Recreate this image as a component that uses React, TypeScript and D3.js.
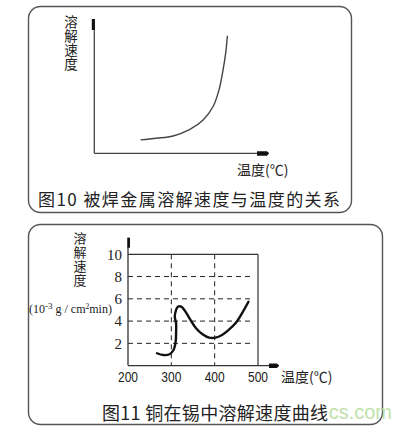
import * as d3 from "d3";

// Fig.10 – qualitative curve (axes carry no numbers), 0..10 arbitrary units
const fig10Temp = [2.65, 3.56, 4.51, 5.47, 6.23, 6.8, 7.14, 7.37, 7.52, 7.62];
const fig10Rate = [0.99, 1.11, 1.28, 1.77, 2.47, 3.46, 4.69, 6.17, 7.41, 8.69];

// Fig.11 – copper dissolution in tin
const fig11Temp = [267, 281, 296, 305, 310, 311, 311, 308, 311, 315, 323, 330, 342, 357, 372, 387, 402, 417, 432, 448, 463, 478];
const fig11Rate = [1.11, 0.95, 1.02, 1.4, 2.15, 3.05, 3.8, 4.4, 5.0, 5.29, 5.29, 5.0, 4.25, 3.35, 2.81, 2.51, 2.51, 2.75, 3.2, 3.8, 4.7, 5.74];
const fig11XTicks = [200, 300, 400, 500];
const fig11YTicks = [2, 4, 6, 8, 10];
const fig11YGrid = [2, 4, 6, 8];
const fig11XGrid = [300, 400];

const yLabel = "溶解速度";

const CJK = "'Noto Sans CJK SC', sans-serif";
const SERIF = "'Liberation Serif', 'Times New Roman', serif";
const SANS = "'Liberation Sans', Arial, sans-serif";

// vertical CJK label, one text element laid out top-to-bottom
function VLabel({ x, y, size, gap }: { x: number; y: number; size: number; gap: number }) {
  return (
    <text
      x={x}
      y={y}
      fontFamily={CJK}
      fontSize={size}
      fill="#222"
      style={{ writingMode: "vertical-rl", textOrientation: "upright", letterSpacing: gap }}
    >
      {yLabel}
    </text>
  );
}

function Fig10() {
  const x = d3.scaleLinear().domain([0, 10]).range([94.3, 269]);
  const y = d3.scaleLinear().domain([0, 10]).range([153.3, 18]);
  const pts = fig10Temp.map((t, i) => [t, fig10Rate[i]] as [number, number]);
  const line = d3
    .line<[number, number]>()
    .x((d) => x(d[0]))
    .y((d) => y(d[1]))
    .curve(d3.curveCatmullRom);
  const x0 = x(0);
  const y0 = y(0);
  return (
    <g>
      <rect x={28.5} y={6.5} width={323} height={206} rx={12} fill="none" stroke="#555" strokeWidth={1.4} />
      {/* axes */}
      <line x1={x0} y1={y0} x2={x0} y2={19} stroke="#444" strokeWidth={1.3} />
      <rect x={x0 - 2.5} y={19} width={3} height={11} fill="#111" />
      <line x1={x0} y1={y0} x2={x(10)} y2={y0} stroke="#444" strokeWidth={1.3} />
      <path d={`M${x(10) - 12},${y0 - 2} L${x(10) - 2},${y0 - 2} L${x(10)},${y0} L${x(10) - 2},${y0 + 2.5} L${x(10) - 12},${y0 + 2.5} Z`} fill="#111" />
      <path d={line(pts) || ""} fill="none" stroke="#444" strokeWidth={1.4} />
      <VLabel x={71} y={15} size={13.5} gap={0.7} />
      <text x={237} y={175} fontFamily={CJK} fontSize={14} fill="#222">温度(℃)</text>
      <text x={38} y={206} fontFamily={CJK} fontSize={17} fill="#222" textLength={302} lengthAdjust="spacing">
        图10 被焊金属溶解速度与温度的关系
      </text>
    </g>
  );
}

function Fig11() {
  const x = d3.scaleLinear().domain([200, 500]).range([128, 258]);
  const y = d3.scaleLinear().domain([0, 10]).range([365.6, 254.3]);
  const pts = fig11Temp.map((t, i) => [t, fig11Rate[i]] as [number, number]);
  const line = d3
    .line<[number, number]>()
    .x((d) => x(d[0]))
    .y((d) => y(d[1]))
    .curve(d3.curveCatmullRom);
  const x0 = x(200);
  const y0 = y(0);
  return (
    <g>
      <rect x={28.5} y={224.5} width={354} height={200} rx={12} fill="none" stroke="#555" strokeWidth={1.4} />
      {/* dashed grid */}
      {fig11YGrid.map((v) => (
        <line key={"h" + v} x1={x0} x2={x(500) - 5} y1={y(v)} y2={y(v)} stroke="#222" strokeWidth={1} strokeDasharray="5,4" />
      ))}
      {fig11XGrid.map((v) => (
        <line key={"v" + v} x1={x(v)} x2={x(v)} y1={y(10)} y2={y0} stroke="#222" strokeWidth={1} strokeDasharray="5,4" />
      ))}
      {/* frame top and right */}
      <line x1={x0} x2={x(500)} y1={y(10)} y2={y(10)} stroke="#333" strokeWidth={1.2} />
      <line x1={x(500)} x2={x(500)} y1={y(10)} y2={y0} stroke="#333" strokeWidth={1.2} />
      {/* axes */}
      <line x1={x0} y1={y0} x2={x0} y2={237.7} stroke="#333" strokeWidth={1.3} />
      <rect x={x0 - 0.5} y={237.7} width={2.5} height={10} fill="#111" />
      <line x1={x0} y1={y0} x2={279} y2={y0} stroke="#333" strokeWidth={1.3} />
      <path d={`M269,${y0 - 2} L277,${y0 - 2} L279,${y0} L277,${y0 + 2.5} L269,${y0 + 2.5} Z`} fill="#111" />
      <path d={line(pts) || ""} fill="none" stroke="#111" strokeWidth={2.4} strokeLinejoin="round" strokeLinecap="round" />
      {fig11YTicks.map((v) => (
        <text key={"yt" + v} x={122} y={y(v)} dy="0.35em" textAnchor="end" fontFamily={SERIF} fontSize={15} fill="#222">
          {v}
        </text>
      ))}
      {fig11XTicks.map((v) => (
        <text key={"xt" + v} x={x(v) - 10} y={382} fontFamily={SANS} fontSize={14} fill="#222" textLength={20} lengthAdjust="spacingAndGlyphs">
          {v}
        </text>
      ))}
      <VLabel x={80} y={232} size={13} gap={0.75} />
      <text x={29} y={312.5} fontFamily={SERIF} fontSize={12} fill="#222">
        (10
        <tspan dy={-4} fontSize={9}>-3</tspan>
        <tspan dy={4}> g / cm</tspan>
        <tspan dy={-4} fontSize={7.5}>2</tspan>
        <tspan dy={4}>min)</tspan>
      </text>
      <text x={281} y={382} fontFamily={CJK} fontSize={14} fill="#222">温度(℃)</text>
      <text x={102} y={420} fontFamily={CJK} fontSize={18} fill="#222" textLength={226} lengthAdjust="spacing">
        图11 铜在锡中溶解速度曲线
      </text>
      <text x={392} y={419} textAnchor="end" fontFamily={SANS} fontSize={20} fill="#b5dc9c" opacity={0.85}>
        cs.com
      </text>
    </g>
  );
}

export default function App() {
  return (
    <div style={{ position: "absolute", left: 0, top: 0, width: 411, height: 429, background: "#fff" }}>
      <svg width={411} height={429} style={{ display: "block" }}>
        <rect width={411} height={429} fill="#fff" />
        <Fig10 />
        <Fig11 />
      </svg>
    </div>
  );
}
